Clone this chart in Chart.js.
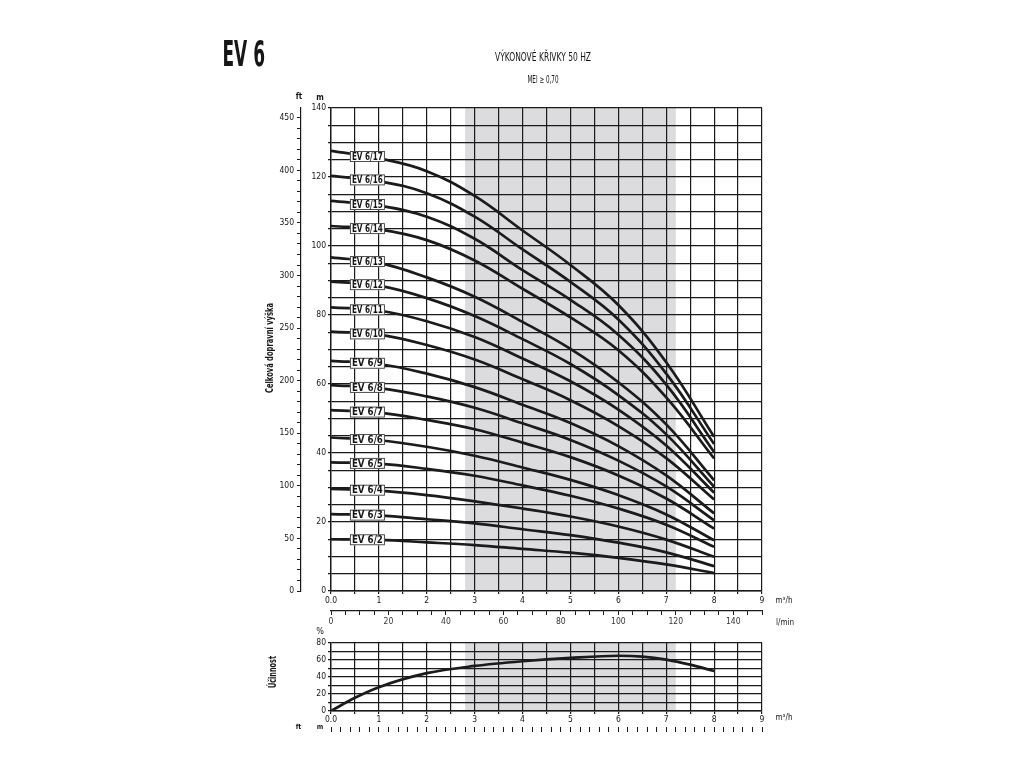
<!DOCTYPE html>
<html><head><meta charset="utf-8">
<script src="https://cdn.jsdelivr.net/npm/chart.js@4/dist/chart.umd.min.js"></script>
<style>
html,body{margin:0;padding:0;background:#fff;width:1024px;height:768px;overflow:hidden;position:relative;}
canvas{position:absolute;left:0;}
#c1{top:0;} #c2{top:620px;}
</style></head><body>
<canvas id="c1" width="1024" height="640"></canvas>
<canvas id="c2" width="1024" height="148"></canvas>
<script>
// ---------------- DATA ----------------
const flowPoints = [0, 1, 2, 3, 4, 5, 6, 7, 8];           // m3/h
const headEV6_17 = [127.6, 125.4, 121.7, 114.5, 104.5, 94.5, 82.9, 66.3, 44.7];
const headEV6_16 = [120.3, 118.8, 115.3, 108.5, 99.0, 89.6, 78.7, 63.0, 42.6];
const headEV6_15 = [113.1, 111.7, 108.5, 102.1, 93.0, 84.4, 74.3, 59.8, 40.3];
const headEV6_14 = [105.8, 104.8, 101.7, 95.8, 87.6, 79.3, 69.8, 56.1, 38.4];
const headEV6_13 = [96.7, 95.1, 90.9, 85.3, 78.0, 70.2, 60.5, 48.3, 32.1];
const headEV6_12 = [89.7, 88.5, 84.9, 79.7, 73.0, 65.8, 56.8, 45.4, 30.2];
const headEV6_11 = [82.2, 81.3, 78.2, 73.6, 67.4, 60.8, 52.6, 42.2, 28.5];
const headEV6_10 = [75.2, 74.3, 71.3, 67.1, 61.4, 55.3, 47.8, 38.5, 26.5];
const headEV6_9  = [66.7, 65.8, 63.0, 59.1, 54.0, 48.7, 42.0, 33.5, 22.5];
const headEV6_8  = [59.7, 58.8, 56.4, 53.1, 48.6, 43.8, 37.8, 30.3, 20.5];
const headEV6_7  = [52.4, 51.7, 49.6, 46.9, 43.0, 38.8, 33.5, 26.8, 18.1];
const headEV6_6  = [44.5, 43.7, 41.8, 39.2, 35.8, 32.2, 27.8, 22.2, 14.7];
const headEV6_5  = [37.3, 36.9, 35.4, 33.4, 30.6, 27.6, 23.9, 19.2, 12.8];
const headEV6_4  = [29.6, 29.1, 27.8, 26.0, 23.9, 21.6, 18.7, 14.9, 9.9];
const headEV6_3  = [22.3, 21.9, 20.8, 19.6, 17.9, 16.2, 14.0, 11.2, 7.2];
const headEV6_2  = [15.0, 14.8, 14.1, 13.3, 12.2, 11.1, 9.6, 7.7, 5.2];

const modelNames = ['EV 6/17','EV 6/16','EV 6/15','EV 6/14','EV 6/13','EV 6/12','EV 6/11','EV 6/10','EV 6/9','EV 6/8','EV 6/7','EV 6/6','EV 6/5','EV 6/4','EV 6/3','EV 6/2'];
const modelHeads = [headEV6_17, headEV6_16, headEV6_15, headEV6_14, headEV6_13, headEV6_12, headEV6_11, headEV6_10, headEV6_9, headEV6_8, headEV6_7, headEV6_6, headEV6_5, headEV6_4, headEV6_3, headEV6_2];

const effFlow    = [0, 0.5, 1, 2, 3, 4, 5, 6, 6.5, 7, 7.5, 8];
const effPercent = [0, 15.5, 28, 44.5, 53, 58.5, 62.5, 65, 64, 60.5, 54.5, 47];

const flowTickLabels = ['0.0','1','2','3','4','5','6','7','8','9'];
const lminTickLabels = [0, 20, 40, 60, 80, 100, 120, 140];
const headTickLabels = [0, 20, 40, 60, 80, 100, 120, 140];
const feetTickLabels = [0, 50, 100, 150, 200, 250, 300, 350, 400, 450];
const effTickLabels  = [0, 20, 40, 60, 80];
const preferredRange = [2.8, 7.2];   // shaded band, m3/h
const labelFlow = 0.76;              // where the model tags sit

// ---------------- STYLE ----------------
const COND = "'Liberation Sans Narrow','DejaVu Sans Condensed','Roboto Condensed',sans-serif";
const INK = '#161616';
const GRID = '#1a1a1a';
const SHADE = '#dcdcdf';

function fitText(ctx, text, x, y, font, targetW, align, rot) {
  ctx.save();
  ctx.font = font;
  ctx.fillStyle = INK;
  ctx.textBaseline = 'middle';
  const w = ctx.measureText(text).width;
  const sx = targetW ? targetW / w : 1;
  ctx.translate(x, y);
  if (rot) ctx.rotate(rot);
  ctx.scale(sx, 1);
  ctx.textAlign = align || 'center';
  ctx.fillText(text, 0, 0);
  ctx.restore();
}

function interp(xs, ys, q) {
  for (let i = 0; i < xs.length - 1; i++) {
    if (q >= xs[i] && q <= xs[i+1]) {
      const t = (q - xs[i]) / (xs[i+1] - xs[i]);
      return ys[i] + t * (ys[i+1] - ys[i]);
    }
  }
  return ys[ys.length-1];
}

const shadePlugin = {
  id: 'shade',
  beforeDraw(chart) {
    const {ctx, chartArea: a, scales: {x}} = chart;
    const x0 = x.getPixelForValue(preferredRange[0]);
    const x1 = x.getPixelForValue(preferredRange[1]);
    ctx.save();
    ctx.fillStyle = SHADE;
    ctx.fillRect(x0, a.top, x1 - x0, a.bottom - a.top);
    ctx.restore();
  }
};

const tagPlugin = {
  id: 'tags',
  afterDatasetsDraw(chart) {
    const {ctx, scales: {x, y}} = chart;
    modelNames.forEach((name, i) => {
      const px = x.getPixelForValue(labelFlow);
      const py = y.getPixelForValue(interp(flowPoints, modelHeads[i], labelFlow));
      const w = 35, h = 11;
      ctx.save();
      ctx.fillStyle = '#ffffff';
      ctx.fillRect(px - w/2, py - h/2, w, h);
      ctx.strokeStyle = '#3a3a3a';
      ctx.lineWidth = 0.9;
      ctx.strokeRect(px - w/2 + 0.5, py - h/2 + 0.5, w - 1, h - 1);
      ctx.restore();
      fitText(ctx, name, px, py + 0.5, 'bold 10.5px ' + COND, 31, 'center');
    });
  }
};

const headerPlugin = {
  id: 'header',
  afterDraw(chart) {
    const ctx = chart.ctx;
    fitText(ctx, 'EV 6', 222.5, 56.5, 'bold 36px ' + COND, 42.5, 'left');
    fitText(ctx, 'VÝKONOVÉ KŘIVKY 50 HZ', 543, 58, '12px ' + COND, 96, 'center');
    fitText(ctx, 'MEI ≥ 0,70', 543, 80.5, '10px ' + COND, 31, 'center');
    fitText(ctx, 'ft', 299, 97, 'bold 8px ' + COND, 0, 'center');
    fitText(ctx, 'm', 320, 97.5, 'bold 8px ' + COND, 0, 'center');
    fitText(ctx, 'Celková dopravní výška', 270, 348, 'bold 11px ' + COND, 90, 'center', -Math.PI/2);
    fitText(ctx, 'm³/h', 784, 601, '8px ' + COND, 0, 'center');
    fitText(ctx, 'l/min', 785, 623, '8px ' + COND, 0, 'center');
  }
};

const effTextPlugin = {
  id: 'effText',
  afterDraw(chart) {
    const ctx = chart.ctx;
    fitText(ctx, '%', 320, 11.5, '9px ' + COND, 0, 'center');
    fitText(ctx, 'Účinnost', 273, 52, 'bold 11px ' + COND, 32, 'center', -Math.PI/2);
    fitText(ctx, 'm³/h', 784, 98, '8px ' + COND, 0, 'center');
    fitText(ctx, 'ft', 298.5, 107.5, 'bold 7px ' + COND, 0, 'center');
    fitText(ctx, 'm', 320, 107.5, 'bold 7px ' + COND, 0, 'center');
  }
};

const tickFont = {family: COND, size: 8.5};
const isInt = v => Math.abs(v - Math.round(v)) < 1e-6;

// ---------------- MAIN CHART ----------------
new Chart(document.getElementById('c1'), {
  type: 'line',
  data: {
    datasets: modelNames.map((name, i) => ({
      label: name,
      data: flowPoints.map((q, k) => ({x: q, y: modelHeads[i][k]})),
      borderColor: '#1b1b1b',
      borderWidth: 2.7,
      pointRadius: 0,
      fill: false,
      tension: 0.4
    }))
  },
  options: {
    responsive: false,
    devicePixelRatio: 1,
    animation: false,
    layout: {padding: {left: 262, right: 262, top: 108, bottom: 0}},
    plugins: {legend: {display: false}, tooltip: {enabled: false}},
    scales: {
      x: {
        type: 'linear', position: 'bottom', min: 0, max: 9, weight: 0,
        grid: {color: GRID, lineWidth: 1.2, tickLength: 3},
        border: {color: GRID, width: 1.4},
        ticks: {stepSize: 0.5, autoSkip: false, maxRotation: 0, padding: 2, color: INK, font: tickFont,
          callback: v => isInt(v) ? flowTickLabels[Math.round(v)] : ''},
        afterFit: s => { s.height = 20; }
      },
      xl: {
        type: 'linear', position: 'bottom', min: 0, max: 150, weight: 1,
        grid: {drawOnChartArea: false, color: GRID, lineWidth: 1, tickLength: 4},
        border: {color: GRID, width: 1.2},
        ticks: {stepSize: 5, autoSkip: false, maxRotation: 0, padding: 2, color: '#333', font: tickFont,
          callback: v => lminTickLabels.includes(Math.round(v)) && isInt(v) ? String(Math.round(v)) : ''},
        afterFit: s => { s.height = 29; }
      },
      y: {
        type: 'linear', position: 'left', min: 0, max: 140, weight: 0,
        grid: {color: GRID, lineWidth: 1.2, tickLength: 3},
        border: {color: GRID, width: 1.4},
        ticks: {stepSize: 5, autoSkip: false, padding: 2, color: INK, font: tickFont,
          callback: v => headTickLabels.includes(v) ? String(v) : ''},
        afterFit: s => { s.width = 30; }
      },
      ft: {
        type: 'linear', position: 'left', min: 0, max: 140 * 3.28084, weight: 1,
        grid: {drawOnChartArea: false, color: GRID, lineWidth: 1, tickLength: 4},
        border: {color: GRID, width: 1.2},
        ticks: {stepSize: 10, includeBounds: false, autoSkip: false, padding: 3, color: INK, font: tickFont,
          callback: v => feetTickLabels.includes(v) ? String(v) : ''},
        afterFit: s => { s.width = 39; }
      }
    }
  },
  plugins: [shadePlugin, tagPlugin, headerPlugin]
});

// ---------------- EFFICIENCY CHART ----------------
new Chart(document.getElementById('c2'), {
  type: 'line',
  data: {
    datasets: [{
      label: 'Účinnost',
      data: effFlow.map((q, k) => ({x: q, y: effPercent[k]})),
      borderColor: '#1b1b1b',
      borderWidth: 2.7,
      pointRadius: 0,
      fill: false,
      cubicInterpolationMode: 'monotone'
    }]
  },
  options: {
    responsive: false,
    devicePixelRatio: 1,
    animation: false,
    layout: {padding: {left: 301, right: 262, top: 23, bottom: 25}},
    plugins: {legend: {display: false}, tooltip: {enabled: false}},
    scales: {
      x: {
        type: 'linear', position: 'bottom', min: 0, max: 9, weight: 0,
        grid: {color: GRID, lineWidth: 1.2, tickLength: 3},
        border: {color: GRID, width: 1.4},
        ticks: {stepSize: 0.5, autoSkip: false, maxRotation: 0, padding: 1, color: INK, font: tickFont,
          callback: v => isInt(v) ? flowTickLabels[Math.round(v)] : ''},
        afterFit: s => { s.height = 16; }
      },
      xt: {
        type: 'linear', position: 'bottom', min: 0, max: 9, weight: 1,
        grid: {drawOnChartArea: false, color: GRID, lineWidth: 1, tickLength: 5},
        border: {display: false},
        ticks: {stepSize: 0.2, autoSkip: false, maxRotation: 0, callback: () => ''},
        afterFit: s => { s.height = 16; }
      },
      y: {
        type: 'linear', position: 'left', min: 0, max: 80, weight: 0,
        grid: {color: GRID, lineWidth: 1.2, tickLength: 3},
        border: {color: GRID, width: 1.4},
        ticks: {stepSize: 10, autoSkip: false, padding: 2, color: INK, font: tickFont,
          callback: v => effTickLabels.includes(v) ? String(v) : ''},
        afterFit: s => { s.width = 30; }
      }
    }
  },
  plugins: [shadePlugin, effTextPlugin]
});
</script>
</body></html>
